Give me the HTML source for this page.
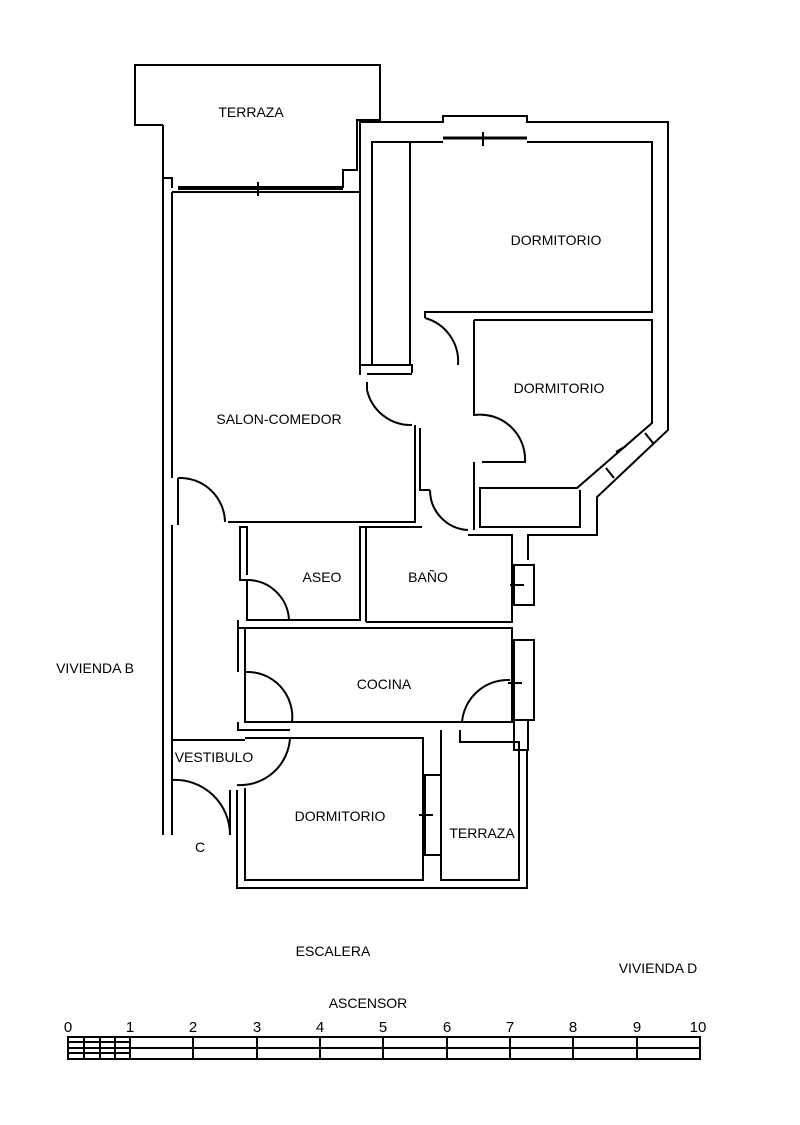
<!DOCTYPE html>
<html><head><style>body{margin:0;background:#fff}svg{display:block}</style></head><body>
<svg width="800" height="1125" viewBox="0 0 800 1125" xmlns="http://www.w3.org/2000/svg" font-family="Liberation Sans, sans-serif" font-size="14" >
<g fill="none" stroke="#000" stroke-width="2">
<path d="M163,125 H135 V65 H380 V120 H357 V170 H343 V188"/>
<path d="M172,188 V178 H163"/>
<line x1="178" y1="188" x2="343" y2="188" stroke-width="4"/>
<line x1="258" y1="182" x2="258" y2="196"/>
<line x1="163" y1="125" x2="163" y2="835"/>
<line x1="172" y1="192" x2="172" y2="478"/>
<line x1="178" y1="478" x2="178" y2="525"/>
<line x1="172" y1="525" x2="172" y2="835"/>
<path d="M172,192 H360 V365 H412 V373"/>
<path d="M367,382 V390 M415,425 V522 H228"/>
<path d="M412,374 H367"/>
<path d="M367,390 A45,45 0 0,0 412,425"/>
<path d="M178,478 A45,45 0 0,1 225,522"/>
<path d="M360,375 V122 H443 V116 H527 V122 H668 V430 L597,497 V535 H528 V560"/>
<line x1="443" y1="138" x2="527" y2="138" stroke-width="3"/>
<line x1="483" y1="132" x2="483" y2="146"/>
<path d="M372,365 V142 H443 M527,142 H652 V312 H425 V318"/>
<path d="M410,142 V365 H372"/>
<path d="M425,318 A45,45 0 0,1 458,365"/>
<path d="M474,320 H652 V423 L577,488 H480 V527 H580 V490"/>
<path d="M474,320 V415 A45,45 0 0,1 525,462 H482"/>
<path d="M420,428 V490 H430"/>
<path d="M474,462 V530"/>
<path d="M430,490 A40,40 0 0,0 468,530"/>
<path d="M645,433 L653,443 M606,468 L614,478"/>
<line x1="616" y1="452" x2="626" y2="446"/>
<path d="M422,527 H360 V620 H247 V580 H240 V527 H247 V575"/>
<path d="M247,580 A42,42 0 0,1 289,620"/>
<path d="M366,622 V527 H380 M468,535 H512 V622 H366"/>
<path d="M512,535 V560"/>
<rect x="514" y="565" width="20" height="40"/>
<line x1="510" y1="585" x2="524" y2="585"/>
<path d="M238,628 H512 V722 H245 V628"/>
<path d="M238,620 V672 M238,722 V730"/>
<path d="M245,672 A45,45 0 0,1 292,722"/>
<rect x="514" y="640" width="20" height="80"/>
<rect x="514" y="720" width="14" height="30"/>
<line x1="508" y1="683" x2="522" y2="683"/>
<path d="M462,722 A46,46 0 0,1 510,680"/>
<path d="M245,738 H423 V880 H245 V788"/>
<path d="M237,730 H290 M237,790 V888 H527 V750"/>
<path d="M290,738 A50,50 0 0,1 237,785"/>
<path d="M172,780 A55,55 0 0,1 230,835 V790"/>
<path d="M172,740 H245"/>
<rect x="425" y="775" width="16" height="80"/>
<line x1="419" y1="815" x2="433" y2="815"/>
<path d="M441,742 V880 H519 V742 H460 V730 M441,742 V730"/>
<rect x="68" y="1037" width="632" height="22"/>
<line x1="68" y1="1048" x2="700" y2="1048"/>
<line x1="68" y1="1042" x2="130" y2="1042"/>
<line x1="68" y1="1053" x2="130" y2="1053"/>
<path d="M84,1037V1059 M100,1037V1059 M115,1037V1059 M130,1037V1059 M193,1037V1059 M257,1037V1059 M320,1037V1059 M383,1037V1059 M447,1037V1059 M510,1037V1059 M573,1037V1059 M637,1037V1059"/>
</g>
<g fill="#000" font-size="14" text-anchor="middle">
<text x="251" y="117">TERRAZA</text>
<text x="556" y="245">DORMITORIO</text>
<text x="559" y="393">DORMITORIO</text>
<text x="279" y="424">SALON-COMEDOR</text>
<text x="322" y="582">ASEO</text>
<text x="428" y="582">BAÑO</text>
<text x="95" y="673">VIVIENDA B</text>
<text x="384" y="689">COCINA</text>
<text x="214" y="762">VESTIBULO</text>
<text x="340" y="821">DORMITORIO</text>
<text x="482" y="838">TERRAZA</text>
<text x="200" y="852">C</text>
<text x="333" y="956">ESCALERA</text>
<text x="658" y="973">VIVIENDA D</text>
<text x="368" y="1008">ASCENSOR</text>
<g font-size="15"><text x="68" y="1032">0</text><text x="130" y="1032">1</text><text x="193" y="1032">2</text><text x="257" y="1032">3</text><text x="320" y="1032">4</text><text x="383" y="1032">5</text><text x="447" y="1032">6</text><text x="510" y="1032">7</text><text x="573" y="1032">8</text><text x="637" y="1032">9</text><text x="698" y="1032">10</text></g>
</g>
</svg>
</body></html>
